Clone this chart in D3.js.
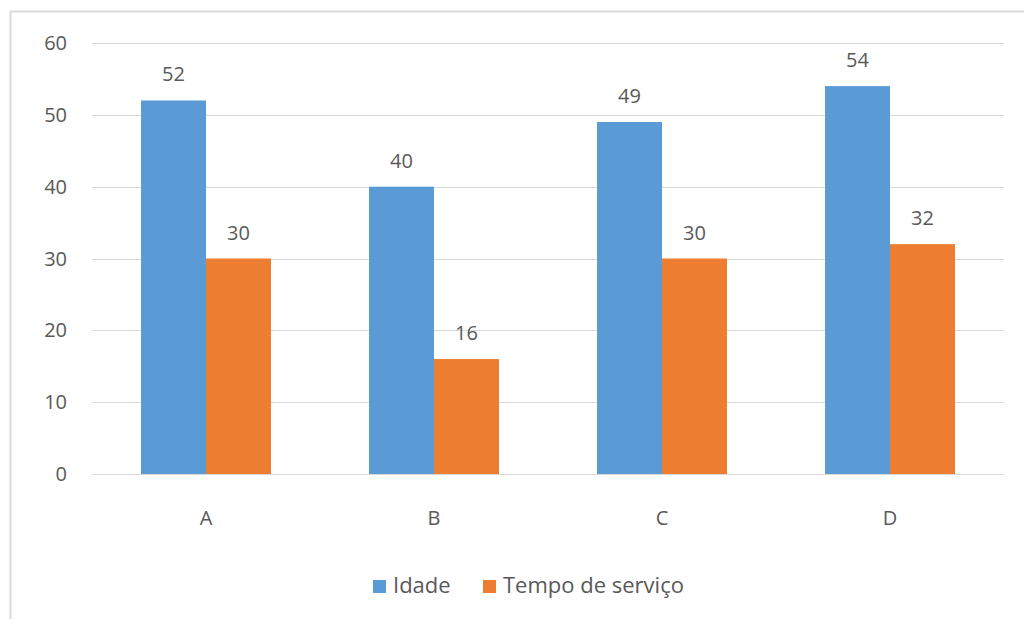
<!DOCTYPE html>
<html>
<head>
<meta charset="utf-8">
<script src="https://cdn.jsdelivr.net/npm/d3@7"></script>
<style>
  html, body { margin: 0; padding: 0; background: #fff; }
  svg { display: block; }
  text { font-family: "Open Sans", "Noto Sans", sans-serif; fill: #595959; }
</style>
</head>
<body>
<svg id="chart" width="1024" height="619"></svg>
<script>
const categories = ["A", "B", "C", "D"];
const seriesNames = ["Idade", "Tempo de serviço"];
const idade = [52, 40, 49, 54];
const tempoServico = [30, 16, 30, 32];
const yTicks = [0, 10, 20, 30, 40, 50, 60];
const colors = ["#5b9bd5", "#ed7d31"];

const svg = d3.select("#chart");

// chart frame (top and left edges)
svg.append("path")
  .attr("d", "M10.5,619 L10.5,11.5 L1024,11.5")
  .attr("fill", "none")
  .attr("stroke", "#d9d9d9")
  .attr("stroke-width", 2);

const plot = { left: 92, right: 1004, top: 43, bottom: 474 };

const y = d3.scaleLinear().domain([0, 60]).range([plot.bottom, plot.top]);
const x = d3.scaleBand().domain(categories)
  .range([plot.left, plot.right])
  .paddingInner(0.43).paddingOuter(0.215);
const xs = d3.scaleBand().domain(seriesNames).range([0, x.bandwidth()]);

// gridlines
svg.append("g").selectAll("line").data(yTicks).join("line")
  .attr("x1", plot.left).attr("x2", plot.right)
  .attr("y1", d => Math.round(y(d)) + 0.5).attr("y2", d => Math.round(y(d)) + 0.5)
  .attr("stroke", "#d9d9d9").attr("stroke-width", 1);

// y-axis labels
svg.append("g").selectAll("text").data(yTicks).join("text")
  .attr("x", 67).attr("y", d => y(d))
  .attr("dy", "0.35em")
  .attr("text-anchor", "end")
  .attr("font-size", 20)
  .text(d => d);

const rows = categories.map((c, i) => ({ cat: c, values: [idade[i], tempoServico[i]] }));

const groups = svg.append("g").selectAll("g").data(rows).join("g")
  .attr("transform", d => `translate(${x(d.cat)},0)`);

groups.selectAll("rect")
  .data(d => d.values.map((v, k) => ({ name: seriesNames[k], value: v, k })))
  .join("rect")
  .attr("x", d => xs(d.name))
  .attr("width", xs.bandwidth())
  .attr("y", d => y(d.value))
  .attr("height", d => y(0) - y(d.value))
  .attr("fill", d => colors[d.k]);

groups.selectAll("text.val")
  .data(d => d.values.map((v, k) => ({ name: seriesNames[k], value: v })))
  .join("text")
  .attr("class", "val")
  .attr("x", d => xs(d.name) + xs.bandwidth() / 2)
  .attr("y", d => y(d.value) - 19)
  .attr("text-anchor", "middle")
  .attr("font-size", 20)
  .text(d => d.value);

// category labels
svg.append("g").selectAll("text").data(categories).join("text")
  .attr("x", d => x(d) + x.bandwidth() / 2)
  .attr("y", 525)
  .attr("text-anchor", "middle")
  .attr("font-size", 20)
  .text(d => d);

// legend
const legend = svg.append("g");
const legendItems = [
  { name: seriesNames[0], color: colors[0], x: 373 },
  { name: seriesNames[1], color: colors[1], x: 483 }
];
legendItems.forEach(it => {
  legend.append("rect").attr("x", it.x).attr("y", 580).attr("width", 13).attr("height", 13).attr("fill", it.color);
  legend.append("text").attr("x", it.x + 20).attr("y", 593).attr("font-size", 22).text(it.name);
});
</script>
</body>
</html>
